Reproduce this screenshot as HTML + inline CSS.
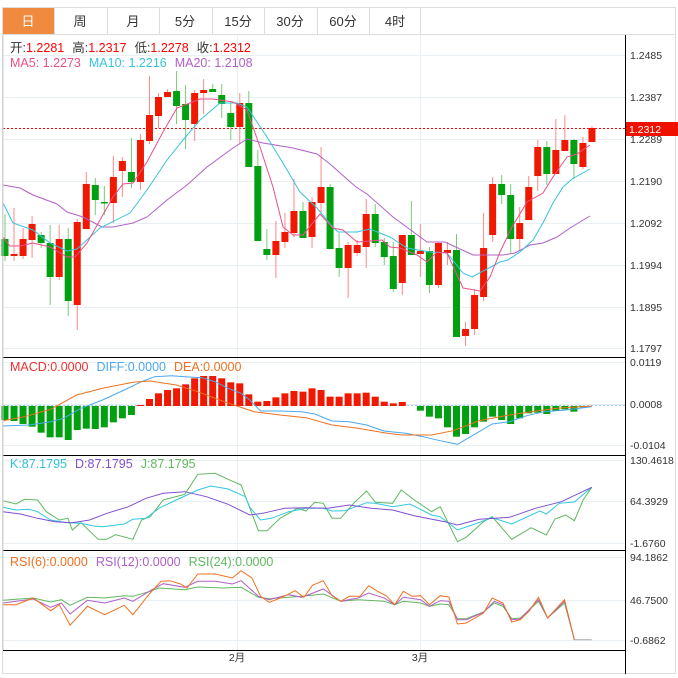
<!DOCTYPE html>
<html><head><meta charset="utf-8"><style>
body{margin:0;background:#fff;width:678px;height:678px;overflow:hidden;font-family:"Liberation Sans","Noto Sans CJK SC",sans-serif}
</style></head><body>
<svg id="s" width="678" height="678" xmlns="http://www.w3.org/2000/svg" style="position:absolute;left:0;top:0;font-family:'Liberation Sans','Noto Sans CJK SC',sans-serif">
<rect x="2.5" y="7.5" width="673" height="666" fill="none" stroke="#ddd"/>
<rect x="3" y="8" width="51" height="26" fill="#f08a3e"/>
<line x1="3" y1="34.5" x2="675" y2="34.5" stroke="#ddd"/>
<g stroke="#ddd"><line x1="54.5" y1="8" x2="54.5" y2="34"/><line x1="107.5" y1="8" x2="107.5" y2="34"/><line x1="159.5" y1="8" x2="159.5" y2="34"/><line x1="212.5" y1="8" x2="212.5" y2="34"/><line x1="264.5" y1="8" x2="264.5" y2="34"/><line x1="317.5" y1="8" x2="317.5" y2="34"/><line x1="369.5" y1="8" x2="369.5" y2="34"/><line x1="420.5" y1="8" x2="420.5" y2="34"/></g>
<g font-size="13" text-anchor="middle" fill="#333"><text x="28" y="26" fill="#fff">日</text><text x="80" y="26">周</text><text x="133" y="26">月</text><text x="185" y="26">5分</text><text x="238" y="26">15分</text><text x="290" y="26">30分</text><text x="343" y="26">60分</text><text x="395" y="26">4时</text></g>
<g id="grid" stroke="#e8f0f4"></g>
<g id="dyn"></g>
<text x="10" y="52" font-size="12.5" fill="#333">开:<tspan fill="#f00">1.2281</tspan><tspan dx="8">高:</tspan><tspan fill="#f00">1.2317</tspan><tspan dx="8">低:</tspan><tspan fill="#f00">1.2278</tspan><tspan dx="8">收:</tspan><tspan fill="#f00">1.2312</tspan></text>
<text x="10" y="67" font-size="12.5"><tspan fill="#e8508a">MA5: 1.2273</tspan><tspan fill="#36c5dc" dx="8">MA10: 1.2216</tspan><tspan fill="#b060c8" dx="8">MA20: 1.2108</tspan></text>
<text x="10" y="371" font-size="12.5"><tspan fill="#f03030">MACD:0.0000</tspan><tspan fill="#4aa8f0" dx="8">DIFF:0.0000</tspan><tspan fill="#f07020" dx="8">DEA:0.0000</tspan></text>
<text x="10" y="468" font-size="12.5"><tspan fill="#30c0d8">K:87.1795</tspan><tspan fill="#8050d0" dx="8">D:87.1795</tspan><tspan fill="#60b860" dx="8">J:87.1795</tspan></text>
<text x="10" y="566" font-size="12.5"><tspan fill="#f07020">RSI(6):0.0000</tspan><tspan fill="#b060c8" dx="8">RSI(12):0.0000</tspan><tspan fill="#60b860" dx="8">RSI(24):0.0000</tspan></text>
<g font-size="10.5" fill="#333">
<text x="630" y="59">1.2485</text><text x="630" y="101">1.2387</text><text x="630" y="143">1.2289</text><text x="630" y="185">1.2190</text><text x="630" y="227">1.2092</text><text x="630" y="269">1.1994</text><text x="630" y="311">1.1895</text><text x="630" y="352">1.1797</text>
<text x="630" y="366">0.0119</text><text x="630" y="408">0.0008</text><text x="630" y="449">-0.0104</text>
<text x="630" y="464">130.4618</text><text x="630" y="505">64.3929</text><text x="630" y="547">-1.6760</text>
<text x="630" y="561">94.1862</text><text x="630" y="604">46.7500</text><text x="630" y="644">-0.6862</text>
<text x="237" y="661" text-anchor="middle">2月</text><text x="420" y="661" text-anchor="middle">3月</text>
</g>
<rect x="625" y="122" width="53" height="14" fill="#f01000"/>
<text x="629" y="133" font-size="10.5" fill="#fff">1.2312</text>
<g stroke="#000"><line x1="3" y1="357.5" x2="625" y2="357.5"/><line x1="3" y1="455.5" x2="625" y2="455.5"/><line x1="3" y1="550.5" x2="625" y2="550.5"/><line x1="3" y1="650.5" x2="625" y2="650.5"/><line x1="625.5" y1="35" x2="625.5" y2="674"/></g>
<line x1="3" y1="35" x2="3" y2="650" stroke="#ccc"/>
</svg>
<script>
var NS="http://www.w3.org/2000/svg",g=document.getElementById('dyn'),gr=document.getElementById('grid');
function el(p,t,a){var e=document.createElementNS(NS,t);for(var k in a)e.setAttribute(k,a[k]);p.appendChild(e);return e}
[55,97,139,181,223,265,307,348,362,404,445,460,501,543,557,600,640].forEach(function(y){el(gr,'line',{x1:3,x2:625,y1:y+.5,y2:y+.5})});
[237,420].forEach(function(x){el(gr,'line',{x1:x+.5,x2:x+.5,y1:35,y2:650})});
el(g,'line',{x1:3,x2:625,y1:128.5,y2:128.5,stroke:'#f00','stroke-dasharray':'2,2'});
el(g,'line',{x1:3,x2:625,y1:405.5,y2:405.5,stroke:'#8cd4f0','stroke-dasharray':'2,2'});
var C=[['g',239,256,214,261],['r',254,256,208,261],['r',239,256,228,259],['r',224,240,216,258],['g',235,243,232,248],['g',243,277,225,305],['r',239,277,225,280],['g',239,301,228,316],['r',222,305,219,330],['r',184,229,172,229],['g',185,200,178,215],['g',202,203.5,186,215],['r',177,203,156,223],['r',161,171,157,197],['g',172,182,138,188],['r',140,182,134,190],['r',115,141,76,144],['r',97,116,93,128],['r',92,97,89,97],['g',91,106,71,124],['g',104,120,85,149],['r',93,124,90,141],['r',90,93,79,114],['g',89,92,84,92],['g',95,104,84,118],['g',113,127,103,140],['r',103,127,93,144],['g',103,167,91,167],['g',166,241,150,241],['g',249,255,229,260],['r',241,255,221,278],['r',232,242,213,248],['r',211,233,179,237],['g',211,238,202,238],['r',202,237,197,248],['r',187,203,147,212],['g',187,249,184,249],['g',248,268,233,277],['r',245,268,242,298],['r',245,253,240,256],['r',214,247,199,268],['g',214,243,204,247],['g',242,257,238,265],['g',256,289,242,292],['r',235,283,235,295],['g',235,255,201,255],['r',251,254,224,277],['g',251,285,247,293],['r',243,285,242,288],['r',250,253,242,265],['g',250,337,234,337],['r',329,336,322,346],['r',295,329,289,335],['r',248,297,213,301],['r',184,235,177,242],['g',184,195,175,204],['g',195,239,184,253],['r',223,239,207,250],['r',187,220,176,220],['r',147,176,140,191],['g',147,174,141,185],['r',150,174,119,174],['r',140,151,115,151],['g',140,164,139,179],['r',143,167,137,169],['r',128,142,126,142]];
function X(i){return 5+i*9.03}
C.forEach(function(c,i){var x=X(i),col=c[0]=='r'?'#f01800':'#00a010',wc=c[0]=='r'?'#f88':'#7c7';
el(g,'line',{x1:x,x2:x,y1:c[3],y2:c[4],stroke:wc});
el(g,'rect',{x:x-3.5,y:c[1],width:7,height:Math.max(1,c[2]-c[1]),fill:col});});
function pl(pts,col,sx,sy,ox,oy){var s=pts.map(function(p){return (ox+p[0]*sx).toFixed(1)+','+(oy+p[1]*sy).toFixed(1)}).join(' ');el(g,'polyline',{points:s,fill:'none',stroke:col,'stroke-width':1})}
pl([[3,185],[20,188],[33,195],[57,204],[67,212],[83,217],[102,227],[113,227],[133,223],[147,217],[167,200],[187,185],[207,167],[233,148],[247,139],[263,143],[293,148],[317,154],[330,164],[356,187],[367,194],[393,217],[427,242],[445,242],[473,255],[503,255],[515,253],[530,245],[543,243],[557,237],[570,228],[590,216]],'#b060c8',1,1,0,0);
pl([[3,203],[13,223],[33,230],[50,243],[67,251],[77,249],[100,228],[130,213],[147,190],[167,160],[183,140],[200,120],[220,103],[237,103],[247,107],[267,137],[283,163],[300,192],[317,208],[330,224],[338,232],[357,232],[370,229],[390,237],[407,248],[430,252],[447,253],[463,273],[472,277],[487,269],[500,262],[508,260],[520,252],[533,240],[543,223],[553,203],[563,187],[572,179],[590,169]],'#36c5dc',1,1,0,0);
pl([[3,237],[10,246],[20,246],[33,243],[50,247],[67,257],[75,257],[87,243],[100,220],[113,197],[123,184],[133,183],[147,162],[163,132],[177,108],[200,99],[213,99],[233,102],[247,110],[260,147],[273,187],[283,227],[293,235],[303,235],[320,214],[333,228],[343,230],[357,242],[382,240],[390,247],[400,248],[417,255],[427,262],[437,252],[447,253],[463,288],[480,291],[490,277],[500,252],[512,227],[527,202],[543,193],[553,177],[567,157],[577,154],[590,145]],'#e8508a',1,1,0,0);
var G1=[210,213,222,230,248,262,262,270,240,236,237,232,217,205,195],R=[165,147,130,120,115,103,85,78,78,85,97,100,133,155,153,142,130,123,125,115,120,140,140,130,130,128,140,155,160,156],G2=[182,200,205,232,260,252,232,215,200,210,222,205,190,188,192,183,178,185,172];
var z=350+168/3;
function bar(i,zy,col){var y=350+zy/3,t=Math.min(y,z),h=Math.max(1,Math.abs(y-z));el(g,'rect',{x:X(i)-3.5,y:t,width:7,height:h,fill:col})}
G1.forEach(function(v,i){bar(i,v,'#00a010')});R.forEach(function(v,i){bar(15+i,v,'#f01800')});G2.forEach(function(v,i){bar(46+i,v,'#00a010')});
var k=1/2.31;
pl([[0,228],[60,225],[110,215],[140,205],[180,175],[230,150],[280,120],[320,95],[350,80],[390,77],[420,80],[460,83],[490,95],[520,115],[550,130],[570,150],[595,183],[640,183],[690,185],[720,192],[760,213],[800,215],[840,225],[880,243],[930,250],[970,260],[1010,272],[1050,283],[1080,260],[1130,222],[1170,215],[1210,197],[1250,185],[1300,180],[1360,170]],'#4aa8f0',k,1/3,3,350);
pl([[0,212],[50,200],[110,178],[170,135],[230,115],[300,97],[340,93],[400,105],[450,125],[500,150],[540,168],[580,185],[640,195],[700,203],[760,225],[820,235],[880,248],[920,255],[990,255],[1040,242],[1100,212],[1160,197],[1220,185],[1280,175],[1360,168]],'#f07020',k,1/3,3,350);
pl([[0,152],[30,162],[50,148],[80,150],[100,185],[130,210],[150,205],[160,240],[180,218],[220,268],[240,268],[260,254],[300,268],[320,210],[340,200],[370,150],[420,133],[450,73],[490,70],[520,88],[550,105],[590,242],[610,242],[640,205],[680,175],[700,183],[720,157],[740,160],[760,205],[780,205],[810,160],[840,123],[860,157],[900,160],[920,120],[950,150],[990,185],[1010,170],[1050,275],[1070,262],[1110,215],[1130,200],[1175,268],[1220,233],[1255,255],[1275,207],[1300,195],[1320,212],[1340,150],[1360,112]],'#60b860',k,1/3,3,450);
pl([[0,172],[30,180],[60,178],[80,185],[110,210],[150,218],[180,220],[210,228],[230,230],[280,222],[300,208],[330,205],[360,175],[400,150],[450,120],[480,108],[520,117],[560,140],[570,172],[595,210],[620,205],[660,185],[700,175],[740,175],[760,183],[790,182],[840,158],[860,160],[900,170],[940,162],[990,195],[1010,200],[1050,240],[1090,222],[1130,203],[1175,222],[1240,183],[1255,192],[1285,160],[1320,156],[1360,112]],'#30c8e0',k,1/3,3,450);
pl([[0,185],[40,192],[80,205],[120,215],[160,218],[200,210],[240,190],[290,170],[330,145],[370,130],[420,125],[470,140],[520,163],[570,195],[600,190],[650,175],[700,173],[750,175],[800,165],[850,175],[900,180],[950,197],[1020,215],[1050,225],[1100,208],[1170,202],[1230,175],[1290,155],[1360,112]],'#8050d0',k,1/3,3,450);
pl([[0,157],[70,150],[110,162],[135,155],[155,172],[195,148],[235,150],[280,143],[300,145],[340,130],[360,120],[420,125],[450,117],[510,120],[550,118],[590,148],[615,152],[690,145],[740,138],[780,160],[820,155],[880,160],[905,170],[925,160],[965,165],[985,175],[1010,168],[1030,170],[1050,212],[1070,212],[1110,192],[1135,165],[1155,175],[1175,212],[1195,210],[1237,160],[1258,210],[1297,165],[1320,275]],'#60b860',k,1/3,3,548);
pl([[0,165],[70,153],[110,178],[135,165],[155,198],[195,157],[235,165],[280,150],[300,160],[340,128],[370,107],[420,118],[450,100],[490,100],[530,108],[550,98],[590,145],[615,155],[660,140],[690,148],[740,123],[780,160],[820,150],[845,135],[880,150],[905,170],[925,148],[965,155],[985,175],[1010,158],[1030,160],[1050,215],[1070,215],[1110,193],[1135,160],[1155,170],[1175,215],[1195,213],[1237,155],[1258,210],[1297,160],[1320,275]],'#b060c8',k,1/3,3,548);
pl([[0,170],[30,170],[70,150],[110,188],[130,170],[155,232],[195,175],[235,200],[280,172],[300,200],[340,135],[365,100],[385,98],[410,108],[425,120],[450,78],[490,78],[530,90],[550,68],[575,90],[595,145],[615,163],[645,148],[675,128],[695,148],[715,112],[740,98],[760,143],[780,160],[800,145],[825,145],[845,113],[865,130],[885,143],[905,170],[925,130],[945,145],[965,143],[985,170],[1010,143],[1030,147],[1050,228],[1070,225],[1110,195],[1130,150],[1155,165],[1175,222],[1195,215],[1215,190],[1237,148],[1258,210],[1297,155],[1320,275]],'#f07020',k,1/3,3,548);
pl([[1320,275],[1360,275]],'#aaa',k,1/3,3,548);
</script>
</body></html>
